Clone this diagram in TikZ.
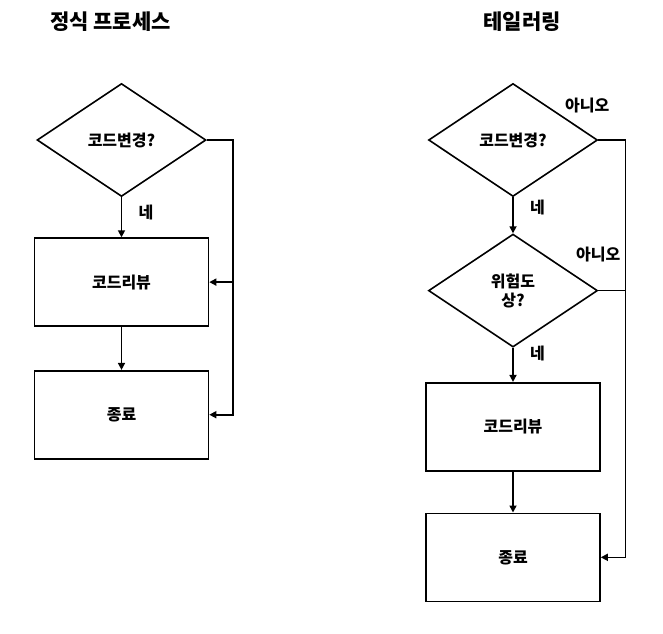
\documentclass[tikz,border=0pt]{standalone}
\usepackage{fontspec}
\setmainfont{Noto Sans CJK KR}
\usetikzlibrary{shapes.geometric,arrows.meta,positioning}

\begin{document}
\begin{tikzpicture}[x=1pt, y=-1pt, line width=1.6pt,
    font=\bfseries\fontsize{16}{19}\selectfont,
    decision/.style={diamond, draw, aspect=1.5, minimum width=169pt, minimum height=113pt, inner sep=0pt, align=center},
    process/.style={rectangle, draw, minimum width=174pt, minimum height=88pt},
    flow/.style={-{Triangle[length=7pt,width=7pt]}},
    title/.style={font=\bfseries\fontsize{21}{25}\selectfont}]
  \useasboundingbox (0,0) rectangle (663,633);
  % formal process
  \node [title] (ftitle) at (110.5,22) {정식 프로세스};
  \node [decision] (fd) at (121.5,140) {코드변경?};
  \node [process] (fr) [below=40pt of fd] {코드리뷰};
  \node [process] (fe) [below=43pt of fr] {종료};
  \path [flow]
  (fd) edge node[right=13pt, pos=0.38] {네} (fr)
  (fr) edge (fe)
  ;
  \draw [flow] (fd.east) -- ++(26,0) coordinate (fbend) |- (fe.east);
  \draw [flow] (fbend |- fr.east) -- (fr.east);
  % tailoring
  \node [title] (ttitle) at (522,22) {테일러링};
  \node [decision] (td1) at (513,140) {코드변경?};
  \node [decision] (td2) [below=36pt of td1] {위험도\\상?};
  \node [process] (tr) [below=34pt of td2] {코드리뷰};
  \node [process] (te) [below=41pt of tr] {종료};
  \path [flow]
  (td1) edge node[right=13pt, pos=0.29] {네} (td2)
  (td2) edge node[right=13pt, pos=0.17] {네} (tr)
  (tr) edge (te)
  ;
  \draw [flow] (td1.east) -- ++(27,0) coordinate (tbend) |- (te.east);
  \draw (td2.east) -- (tbend |- td2.east);
  \node (tno1) at ([xshift=-11pt, yshift=34pt]td1.east) {아니오};
  \node (tno2) at ([yshift=36pt]td2.east) {아니오};
\end{tikzpicture}
\end{document}
